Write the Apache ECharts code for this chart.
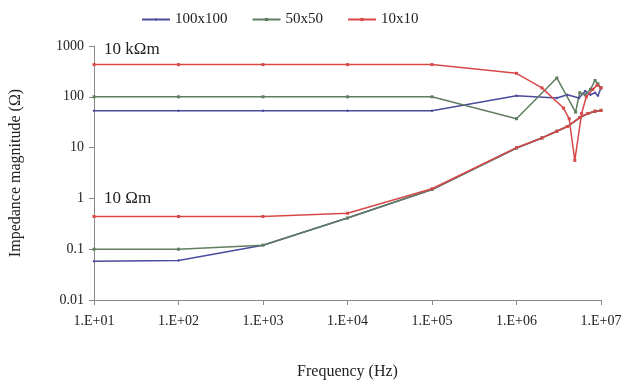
<!DOCTYPE html>
<html>
<head>
<meta charset="utf-8">
<script src="https://cdn.jsdelivr.net/npm/echarts@6/dist/echarts.min.js"></script>
<style>
  html, body { margin: 0; padding: 0; background: #fff; }
  #chart { width: 637px; height: 385px; }
</style>
</head>
<body>
<div id="chart"></div>
<script>
// legend names
var seriesNames = ["100x100", "50x50", "10x10"];

// 10 kΩm (upper curves)
var freqBlueHigh = [10, 100, 1e3, 1e4, 1e5, 1e6, 3e6, 4e6, 5.5e6, 6.5e6, 7.5e6, 8.5e6, 9.2e6, 1e7];
var blueHigh = [53, 53, 53, 53, 53, 105, 95, 110, 95, 130, 110, 120, 105, 150];

var freqGreenHigh = [10, 100, 1e3, 1e4, 1e5, 1e6, 3e6, 5e6, 5.6e6, 6.5e6, 7.5e6, 8.5e6, 9.2e6, 1e7];
var greenHigh = [100, 100, 100, 100, 100, 37, 235, 50, 120, 110, 140, 210, 180, 150];

var freqRedHigh = [10, 100, 1e3, 1e4, 1e5, 1e6, 2e6, 3.6e6, 4.2e6, 4.9e6, 5.9e6, 6.7e6, 8e6, 9e6, 1e7];
var redHigh = [430, 430, 430, 430, 430, 290, 150, 60, 37, 5.6, 47, 100, 140, 170, 150];

// 10 Ωm (lower curves)
var freqLow = [10, 100, 1e3, 1e4, 1e5, 1e6, 2e6, 3e6, 4e6, 5.6e6, 7e6, 8.5e6, 1e7];
var blueLow = [0.058, 0.06, 0.12, 0.41, 1.5, 9.8, 15.5, 21, 26, 39, 47, 52, 54];
var greenLow = [0.1, 0.1, 0.12, 0.41, 1.5, 9.8, 15.5, 21, 26, 39, 47, 52, 54];
var redLow = [0.44, 0.44, 0.44, 0.51, 1.55, 10, 15.5, 21, 26, 39, 47, 52, 54];

var xTickLabels = ["1.E+01", "1.E+02", "1.E+03", "1.E+04", "1.E+05", "1.E+06", "1.E+07"];
var yTickLabels = ["0.01", "0.1", "1", "10", "100", "1000"];

var colors = ["#4b4b9e", "#5f7d5f", "#d84848"];
var font = "Liberation Serif";

function pairs(xs, ys) {
  return xs.map(function (x, i) { return [x, ys[i]]; });
}

function makeSeries(name, color, symbol, data) {
  return {
    name: name,
    type: "line",
    data: data,
    symbol: symbol,
    symbolSize: 3,
    lineStyle: { color: color, width: 1.5 },
    itemStyle: { color: color },
    animation: false
  };
}

var chart = echarts.init(document.getElementById("chart"));
chart.setOption({
  backgroundColor: "#fff",
  color: colors,
  legend: {
    top: 7,
    left: 136,
    itemWidth: 28,
    itemHeight: 4,
    itemGap: 24,
    textStyle: { fontFamily: font, fontSize: 15, color: "#222" },
    data: seriesNames
  },
  grid: { left: 94, right: 36, top: 46, bottom: 85 },
  xAxis: {
    type: "log",
    logBase: 10,
    min: 10,
    max: 1e7,
    name: "Frequency (Hz)",
    nameLocation: "middle",
    nameGap: 64,
    nameTextStyle: { fontFamily: font, fontSize: 16, color: "#222" },
    axisLine: { lineStyle: { color: "#888" } },
    axisTick: { lineStyle: { color: "#888" } },
    splitLine: { show: false },
    axisLabel: {
      fontFamily: font,
      fontSize: 14,
      color: "#222",
      margin: 14,
      formatter: function (v) {
        var k = Math.round(Math.log10(v)) - 1;
        return xTickLabels[k] || "";
      }
    }
  },
  yAxis: {
    type: "log",
    logBase: 10,
    min: 0.01,
    max: 1000,
    name: "Impedance magnitude (Ω)",
    nameLocation: "middle",
    nameGap: 70,
    nameTextStyle: { fontFamily: font, fontSize: 16, color: "#222" },
    axisLine: { show: true, lineStyle: { color: "#888" } },
    axisTick: { show: true, lineStyle: { color: "#888" } },
    splitLine: { show: false },
    axisLabel: {
      fontFamily: font,
      fontSize: 14,
      color: "#222",
      margin: 10,
      formatter: function (v) {
        var k = Math.round(Math.log10(v)) + 2;
        return yTickLabels[k] || "";
      }
    }
  },
  graphic: [
    { type: "text", left: 104, top: 41, style: { text: "10 kΩm", font: "17px 'Liberation Serif'", fill: "#222" } },
    { type: "text", left: 104, top: 190, style: { text: "10 Ωm", font: "17px 'Liberation Serif'", fill: "#222" } }
  ],
  series: [
    makeSeries(seriesNames[0], colors[0], "diamond", pairs(freqBlueHigh, blueHigh)),
    makeSeries(seriesNames[1], colors[1], "rect", pairs(freqGreenHigh, greenHigh)),
    makeSeries(seriesNames[2], colors[2], "rect", pairs(freqRedHigh, redHigh)),
    makeSeries(seriesNames[0], colors[0], "diamond", pairs(freqLow, blueLow)),
    makeSeries(seriesNames[1], colors[1], "rect", pairs(freqLow, greenLow)),
    makeSeries(seriesNames[2], colors[2], "rect", pairs(freqLow, redLow))
  ]
});
</script>
</body>
</html>
